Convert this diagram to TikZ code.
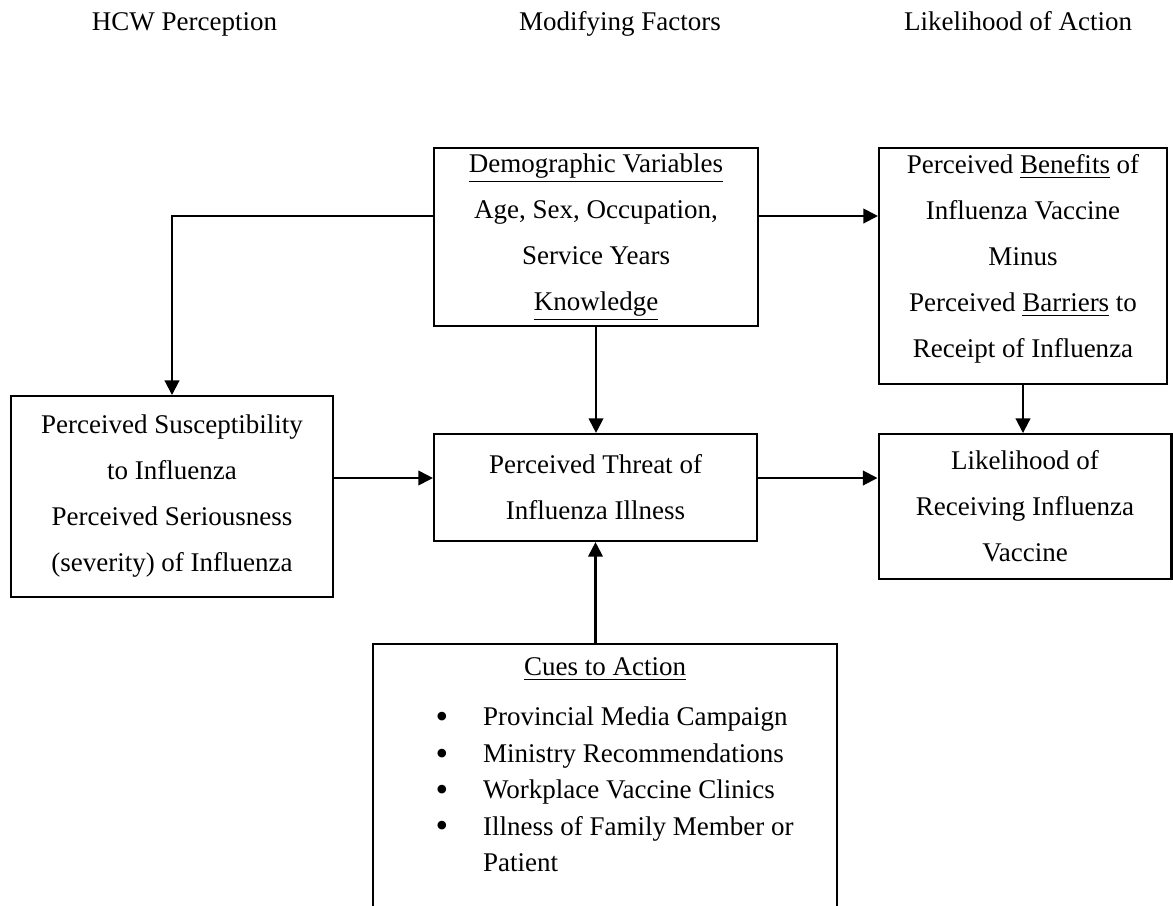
\documentclass[tikz,border=0pt]{standalone}
\usepackage{fontspec}
\setmainfont{Liberation Serif}
\usetikzlibrary{arrows.meta}

\newcommand{\cuebullet}{\hspace*{29.8pt}\makebox[19.1pt][l]{\hspace*{-2pt}\raisebox{-1.2pt}{\fontsize{16pt}{16pt}\selectfont\textbullet}}}

\begin{document}
\begin{tikzpicture}[x=0.4444pt,y=-0.4444pt,
        every node/.style={font=\fontsize{12pt}{20.44pt}\selectfont},
        box/.style={draw, line width=0.9pt, align=center, inner sep=0pt},
        arr/.style={line width=0.9pt, -{Triangle[length=6.5pt,width=6.5pt]}},
        heading/.style={anchor=base}]
        \useasboundingbox (0,0) rectangle (1173,905);
        \clip (0,0) rectangle (1173,905);
        % column headings
        \node[heading] (hcw) at (184.5,30) {HCW Perception};
        \node[heading] (mod) at (620,30) {Modifying Factors};
        \node[heading] (act) at (1018,30) {Likelihood of Action};
        % boxes
        \node[box, minimum width=144pt, minimum height=79.1pt] (demo) at (596,237)
            {\underline{Demographic Variables}\\ Age, Sex, Occupation,\\ Service Years\\ \underline{Knowledge}};
        \node[box, minimum width=128pt, minimum height=104.9pt] (benefits) at (1023,266)
            {Perceived \underline{Benefits} of\\ Influenza Vaccine\\ Minus\\ Perceived \underline{Barriers} to\\ Receipt of Influenza\rule[-8.8pt]{0pt}{0pt}};
        \node[box, minimum width=143.1pt, minimum height=89.3pt] (susc) at (172,496.5)
            {Perceived Susceptibility\\ to Influenza\\ Perceived Seriousness\\ (severity) of Influenza};
        \node[box, minimum width=143.6pt, minimum height=47.6pt] (threat) at (595.5,487.5)
            {Perceived Threat of\\ Influenza Illness};
        \node[box, minimum width=130.2pt, minimum height=64.4pt] (likelihood) at (1025,506.5)
            {Likelihood of\\ Receiving Influenza\\ Vaccine};
        \node[box, anchor=north, text width=206.2pt, align=flush left] (cues) at (605,643) {%
            {\centering\rule{0pt}{14.2pt}\underline{Cues to Action}\par}
            \vspace{6pt}\baselineskip=16.2pt
            \cuebullet Provincial Media Campaign\\
            \cuebullet Ministry Recommendations\\
            \cuebullet Workplace Vaccine Clinics\\
            \cuebullet Illness of Family Member or\\
            \hspace*{48.9pt}Patient\par\vspace{30pt}\null};
        % connectors
        \coordinate (toprow) at (0,216);
        \coordinate (midrow) at (0,478);
        \draw[arr] (demo.west |- toprow) -| (susc.north);
        \draw[arr] (demo.east |- toprow) -- (benefits.west |- toprow);
        \draw[arr] (demo.south) -- (demo.south |- threat.north);
        \draw[arr] (susc.east |- midrow) -- (threat.west |- midrow);
        \draw[arr] (threat.east |- midrow) -- (likelihood.west |- midrow);
        \draw[arr] (benefits.south) -- (benefits.south |- likelihood.north);
        \draw[arr] (cues.north -| threat.south) -- (threat.south);
    \end{tikzpicture}
\end{document}
